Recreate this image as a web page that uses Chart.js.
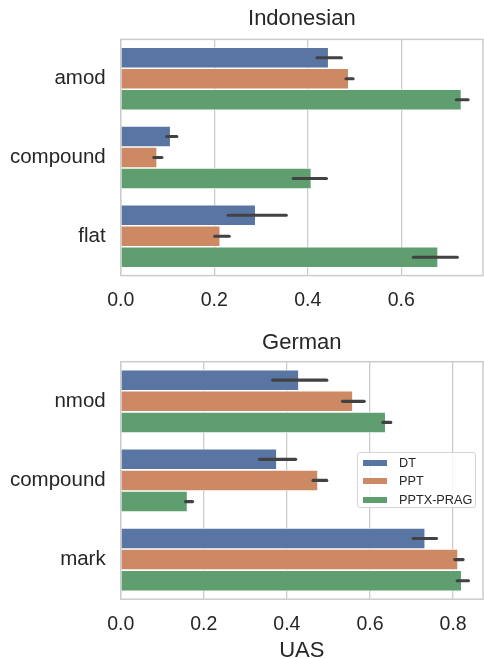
<!DOCTYPE html>
<html>
<head>
<meta charset="utf-8">
<script src="https://cdn.jsdelivr.net/npm/chart.js@4/dist/chart.umd.min.js"></script>
<style>
  html, body { margin: 0; padding: 0; background: #ffffff; }
  body { width: 484px; height: 659px; position: relative; overflow: hidden; font-family: 'Liberation Sans', Arial, sans-serif; }
  .wrap { position: absolute; left: 0; width: 484px; }
  #legend { position: absolute; left: 357px; top: 452px; width: 119px; height: 56px; border: 1px solid #d5d5d5; border-radius: 3px; background: rgba(255,255,255,0.8); box-sizing: border-box; z-index: 5; }
  .item { position: absolute; left: 5px; height: 18px; line-height: 18px; font-size: 12.7px; color: #262626; }
  .sw { position: absolute; left: 0; top: 6px; width: 24px; height: 6px; }
  .lb { position: absolute; left: 36px; top: 0; white-space: nowrap; }
</style>
</head>
<body>
<div class="wrap" style="top:0;height:325px;z-index:1;"><canvas id="c1" width="484" height="325"></canvas></div>
<div class="wrap" style="top:320px;height:339px;z-index:2;"><canvas id="c2" width="484" height="339"></canvas></div>
<div id="legend"></div>
<script>
// ---- Data ----
const seriesNames = ['DT', 'PPT', 'PPTX-PRAG'];
const seriesColors = ['#5975a4', '#cc8963', '#5f9e6e'];

const idCategories = ['amod', 'compound', 'flat'];
const idDT     = [0.445, 0.107, 0.289];
const idDTLow  = [0.420, 0.098, 0.230];
const idDTHigh = [0.472, 0.120, 0.354];
const idPPT     = [0.488, 0.078, 0.213];
const idPPTLow  = [0.482, 0.071, 0.201];
const idPPTHigh = [0.497, 0.088, 0.232];
const idPPTX     = [0.729, 0.408, 0.679];
const idPPTXLow  = [0.718, 0.369, 0.626];
const idPPTXHigh = [0.743, 0.440, 0.720];
const idTicks = [0.0, 0.2, 0.4, 0.6];
const idMax = 0.775;

const deCategories = ['nmod', 'compound', 'mark'];
const deDT     = [0.429, 0.376, 0.733];
const deDTLow  = [0.366, 0.334, 0.704];
const deDTHigh = [0.496, 0.421, 0.760];
const dePPT     = [0.559, 0.475, 0.812];
const dePPTLow  = [0.534, 0.463, 0.804];
const dePPTHigh = [0.586, 0.496, 0.824];
const dePPTX     = [0.638, 0.161, 0.821];
const dePPTXLow  = [0.631, 0.156, 0.810];
const dePPTXHigh = [0.650, 0.173, 0.837];
const deTicks = [0.0, 0.2, 0.4, 0.6, 0.8];
const deMax = 0.872;

const FONT = "'Liberation Sans', Arial, sans-serif";
const TXT = '#262626';
const GRID = '#cccccc';

// error bars + frame plugin
const errPlugin = {
  id: 'errbars',
  afterDatasetsDraw(chart) {
    const ctx = chart.ctx;
    const xs = chart.scales.x;
    ctx.save();
    ctx.strokeStyle = '#424242';
    ctx.lineWidth = 3.2;
    ctx.lineCap = 'round';
    chart.data.datasets.forEach((ds, i) => {
      const meta = chart.getDatasetMeta(i);
      meta.data.forEach((bar, j) => {
        const x1 = xs.getPixelForValue(ds.errLow[j]);
        const x2 = xs.getPixelForValue(ds.errHigh[j]);
        ctx.beginPath();
        ctx.moveTo(x1, bar.y);
        ctx.lineTo(x2, bar.y);
        ctx.stroke();
      });
    });
    ctx.restore();
  },
  afterDraw(chart) {
    const a = chart.chartArea;
    const ctx = chart.ctx;
    ctx.save();
    ctx.strokeStyle = GRID;
    ctx.lineWidth = 1.5;
    ctx.strokeRect(a.left, a.top, a.right - a.left, a.bottom - a.top);
    ctx.restore();
  }
};

function makeChart(id, title, cats, vals, lows, highs, ticks, max, opts) {
  const datasets = seriesNames.map((n, i) => ({
    label: n,
    data: vals[i],
    errLow: lows[i],
    errHigh: highs[i],
    backgroundColor: seriesColors[i],
    borderColor: '#ffffff',
    borderWidth: {top: 0.8, bottom: 0.8, right: 0.8, left: 0},
    borderSkipped: false,
    categoryPercentage: 0.8,
    barPercentage: 1.0
  }));
  return new Chart(document.getElementById(id), {
    type: 'bar',
    data: { labels: cats, datasets },
    options: {
      indexAxis: 'y',
      responsive: false,
      animation: false,
      devicePixelRatio: 1,
      layout: { padding: { left: 0, right: 1, top: 0, bottom: opts.padBottom } },
      plugins: {
        legend: { display: false },
        tooltip: { enabled: false },
        title: {
          display: true, text: title, color: TXT, fullSize: false,
          font: { family: FONT, size: 22, weight: 'normal' },
          padding: opts.titlePad
        }
      },
      scales: {
        x: {
          type: 'linear', min: 0, max: max,
          afterBuildTicks(scale) { scale.ticks = ticks.map(v => ({ value: v })); },
          ticks: {
            color: TXT, padding: opts.tickPad,
            font: { family: FONT, size: 19.5 },
            callback: v => Number(v).toFixed(1)
          },
          grid: { color: GRID, lineWidth: 1.3, drawTicks: false },
          border: { display: false },
          title: opts.xTitle ? {
            display: true, text: opts.xTitle, color: TXT,
            font: { family: FONT, size: 22, lineHeight: 1.0 },
            padding: { top: opts.xTitlePadTop, bottom: opts.xTitlePadBottom }
          } : { display: false }
        },
        y: {
          afterFit(scale) { scale.width = 120.7; },
          ticks: { color: TXT, padding: 15, font: { family: FONT, size: 20.5 } },
          grid: { display: false, drawTicks: false },
          border: { display: false }
        }
      }
    },
    plugins: [errPlugin]
  });
}

makeChart('c1', 'Indonesian', idCategories,
  [idDT, idPPT, idPPTX], [idDTLow, idPPTLow, idPPTXLow], [idDTHigh, idPPTHigh, idPPTXHigh],
  idTicks, idMax, { padBottom: 0, tickPad: 13, titlePad: { top: 6, bottom: 7 } });

makeChart('c2', 'German', deCategories,
  [deDT, dePPT, dePPTX], [deDTLow, dePPTLow, dePPTXLow], [deDTHigh, dePPTHigh, dePPTXHigh],
  deTicks, deMax, { padBottom: 0, tickPad: 13.7, titlePad: { top: 10, bottom: 5.3 }, xTitle: 'UAS', xTitlePadTop: -10, xTitlePadBottom: -3 });

// legend
const leg = document.getElementById('legend');
seriesNames.forEach((n, i) => {
  const d = document.createElement('div');
  d.className = 'item';
  d.style.top = (1 + i * 18.3) + 'px';
  d.innerHTML = '<span class="sw" style="background:' + seriesColors[i] + '"></span><span class="lb">' + n + '</span>';
  leg.appendChild(d);
});
</script>
</body>
</html>
